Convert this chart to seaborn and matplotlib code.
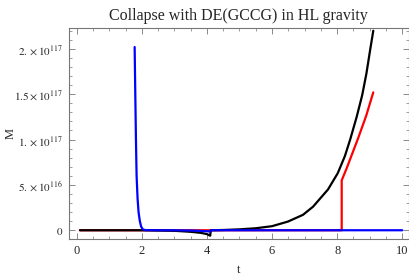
import numpy as np
import pandas as pd
import matplotlib
matplotlib.use("Agg")
import matplotlib.pyplot as plt
import seaborn as sns
from matplotlib.ticker import MultipleLocator

sns.set_style("white")
plt.rcParams['font.family'] = ['Liberation Serif', 'DejaVu Serif']
plt.rcParams['mathtext.fontset'] = 'stix'

# Blue series
t_blue = [1.78, 1.80, 1.82, 1.84, 1.87, 1.90, 1.94, 1.98, 2.03, 2.10, 2.5, 3.0, 3.5, 3.8, 4.0, 4.1, 4.12, 5.0, 6.0, 7.0, 8.0, 9.0, 10.0]
M_blue = [2.02e117, 1.5e117, 1.0e117, 6.0e116, 3.5e116, 2.0e116, 1.0e116, 4e115, 1e115, 2e114, 0, 0, -3e114, -7e114, -1.1e115, -1.4e115, 0, 0, 0, 0, 0, 0, 0]

# Black series
t_black = [0.1, 1.0, 2.0, 3.0, 3.5, 3.8, 4.0, 4.1, 4.12, 4.5, 5.0, 5.5, 6.0, 6.49, 6.95, 7.26, 7.72, 8.02, 8.24, 8.40, 8.60, 8.77, 8.90, 9.01, 9.11]
M_black = [0, 0, 0, -6e114, -1.7e115, -2.8e115, -4.2e115, -6e115, 0, 3e114, 1.0e115, 2.2e115, 4.5e115, 9.6e115, 1.7e116, 2.6e116, 4.5e116, 6.3e116, 8.2e116, 1.0e117, 1.25e117, 1.49e117, 1.73e117, 1.98e117, 2.2e117]

# Red series
t_red = [0.1, 2.0, 4.0, 6.0, 8.0, 8.14, 8.14, 8.30, 8.48, 8.65, 8.89, 9.11]
M_red = [0, 0, 0, 0, 0, 0, 5.5e116, 6.9e116, 8.6e116, 1.02e117, 1.26e117, 1.52e117]

y_ticks = [0, 5e116, 1e117, 1.5e117, 2e117]
y_tick_labels = [r"$0$", r"$5.\times10^{116}$", r"$1.\times10^{117}$", r"$1.5\times10^{117}$", r"$2.\times10^{117}$"]
x_ticks = [0, 2, 4, 6, 8, 10]

fig = plt.figure(figsize=(4.10, 2.77), dpi=100)
ax = fig.add_axes([0.168, 0.136, 0.829, 0.763])

df_red = pd.DataFrame({"t": t_red, "M": M_red})
df_black = pd.DataFrame({"t": t_black, "M": M_black})
df_blue = pd.DataFrame({"t": t_blue, "M": M_blue})

for df, c in [(df_red, "#ff0000"), (df_black, "#000000"), (df_blue, "#0000ff")]:
    sns.lineplot(data=df, x="t", y="M", sort=False, estimator=None, color=c, lw=1.6, ax=ax)

ax.set_xlim(-0.24, 10.2)
ax.set_ylim(-1.0e116, 2.23e117)
ax.set_xticks(x_ticks)
ax.set_xticklabels([str(v) for v in x_ticks])
ax.set_yticks(y_ticks)
ax.set_yticklabels(y_tick_labels)
ax.xaxis.set_minor_locator(MultipleLocator(0.5))
ax.yaxis.set_minor_locator(MultipleLocator(1e116))

for s in ax.spines.values():
    s.set_color("#777777")
    s.set_linewidth(0.8)
ax.tick_params(which="major", direction="in", length=4, width=0.6, color="#777777",
               top=True, right=True, bottom=True, left=True, pad=4)
ax.tick_params(axis="x", labelsize=9)
ax.tick_params(axis="y", labelsize=8)
ax.tick_params(which="minor", direction="in", length=2, width=0.5, color="#777777",
               top=True, right=True, bottom=True, left=True)
ax.set_xlabel("t", fontsize=9, labelpad=5)
ax.set_ylabel("M", fontsize=9)
ax.yaxis.set_label_coords(-0.155, 0.5)
ax.set_title("Collapse with DE(GCCG) in HL gravity", fontsize=11.5, pad=6)
ax.grid(False)

fig.savefig("out.png", dpi=100)
